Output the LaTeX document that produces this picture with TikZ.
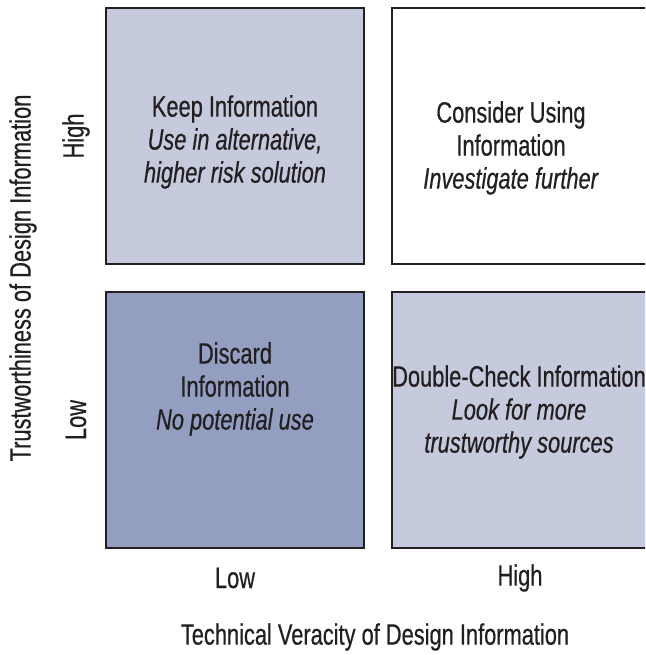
\documentclass[tikz,border=0pt]{standalone}
\usepackage{fontspec}
\setmainfont[FakeStretch=0.74,FakeBold=0.5]{Liberation Sans}
\definecolor{lightq}{HTML}{C5CADD}
\definecolor{darkq}{HTML}{939EC1}
\definecolor{ink}{HTML}{231F20}
\begin{document}
\begin{tikzpicture}[x=1pt,y=1pt,
  quad/.style={draw=ink,line width=2pt,minimum width=258pt,minimum height=256pt,inner sep=0pt},
  qtext/.style={align=center,text=ink,font=\fontsize{29.5}{33}\selectfont},
  axlab/.style={text=ink,font=\fontsize{29.5}{33}\selectfont}]
\clip (0,0) rectangle (645,655);
\node[quad,fill=lightq] (tl) at (235,519) {};
\node[quad,fill=white] (tr) at (521,519) {};
\node[quad,fill=darkq] (bl) at (235,235) {};
\node[quad,fill=lightq] (br) at (521,235) {};
\node[qtext] (tlt) at (235,513) {Keep Information\\\textit{Use in alternative,}\\\textit{higher risk solution}};
\node[qtext] (trt) at (511,507) {Consider Using\\Information\\\textit{Investigate further}};
\node[qtext] (blt) at (235,266) {Discard\\Information\\\textit{No potential use}};
\node[qtext] (brt) at (519,243) {Double-Check Information\\\textit{Look for more}\\\textit{trustworthy sources}};
\node[axlab,rotate=90] (yhigh) at (76,519) {High};
\node[axlab,rotate=90] (ylow) at (76,235) {Low};
\node[axlab,rotate=90] (ytitle) at (23,377) {Trustworthiness of Design Information};
\node[axlab] (xlow) at (235,77) {Low};
\node[axlab] (xhigh) at (520,77) {High};
\node[axlab] (xtitle) at (375,18) {Technical Veracity of Design Information};
\end{tikzpicture}
\end{document}
